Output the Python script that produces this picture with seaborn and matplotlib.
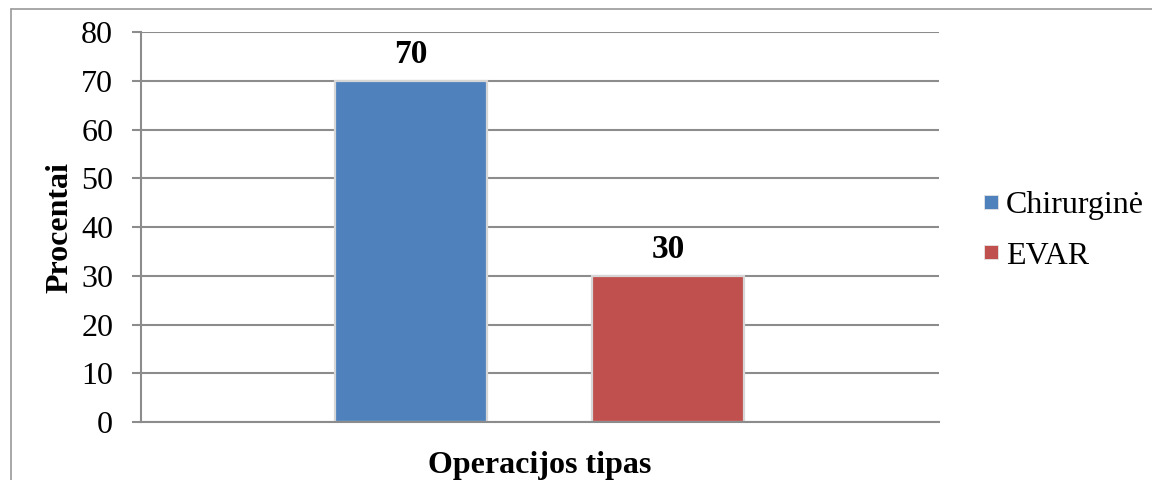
import matplotlib
matplotlib.use("Agg")
import matplotlib.pyplot as plt
from matplotlib.lines import Line2D
import seaborn as sns
import pandas as pd

# Data
series = ["Chirurginė", "EVAR"]
values = [70, 30]
colors = ["#4F81BD", "#C0504D"]
y_ticks = [0, 10, 20, 30, 40, 50, 60, 70, 80]

sns.set_theme(style="white")
plt.rcParams["font.family"] = ["Liberation Serif", "DejaVu Serif"]
plt.rcParams["text.color"] = "black"
plt.rcParams["axes.labelcolor"] = "black"
plt.rcParams["ytick.color"] = "black"

FS = 23

df = pd.DataFrame({"series": series, "value": values})

fig = plt.figure(figsize=(11.52, 4.8), dpi=100)
ax = fig.add_axes([0.1224, 0.1208, 0.8151 - 0.1224, 0.9333 - 0.1208])

sns.barplot(data=df, x="series", y="value", hue="series", palette=colors,
            saturation=1, width=0.59, edgecolor="#d6d6d6", linewidth=1.6,
            legend=False, ax=ax)

ax.set_xlim(-1.05, 2.055)
ax.set_ylim(0, 80)
ax.set_yticks(y_ticks)
ax.set_yticklabels([str(t) for t in y_ticks], fontsize=FS)
ax.set_xticks([])

grid_c = "#8c8c8c"
ax.yaxis.grid(True, color=grid_c, linewidth=1.5)
ax.set_axisbelow(True)
for side in ["top", "right"]:
    ax.spines[side].set_visible(False)
for side in ["left", "bottom"]:
    ax.spines[side].set_color(grid_c)
    ax.spines[side].set_linewidth(1.5)
ax.tick_params(axis="y", which="both", left=True, length=6.5, width=1.5,
               color=grid_c, pad=13.5, labelcolor="black")

# Value labels above the bars
for i, v in enumerate(values):
    ax.annotate(str(v), (i, v), xytext=(0, 13), textcoords="offset points",
                ha="center", va="baseline", fontsize=24, fontweight="bold")

ax.set_ylabel("Procentai", fontsize=FS, fontweight="bold", labelpad=5)
ax.set_xlabel("Operacijos tipas", fontsize=FS, fontweight="bold", labelpad=21)

handles = [Line2D([], [], linestyle="none", marker="s", markersize=10,
                  markerfacecolor=c, markeredgecolor="#e4e4e4", markeredgewidth=0.6)
           for c in colors]
leg = ax.legend(handles, series, loc="center left", bbox_to_anchor=(1.0526, 0.491),
                frameon=False, fontsize=FS, handlelength=0.6, handletextpad=0.17,
                labelspacing=0.67, borderpad=0, borderaxespad=0)

# Outer chart frame
fig.add_artist(Line2D([10.5 / 1152, 1.0], [1 - 8.5 / 480, 1 - 8.5 / 480],
                      color="#9a9a9a", linewidth=1.2, transform=fig.transFigure))
fig.add_artist(Line2D([10.5 / 1152, 10.5 / 1152], [0, 1 - 8.5 / 480],
                      color="#9a9a9a", linewidth=1.2, transform=fig.transFigure))

fig.savefig("out.png", dpi=100, facecolor="white")
